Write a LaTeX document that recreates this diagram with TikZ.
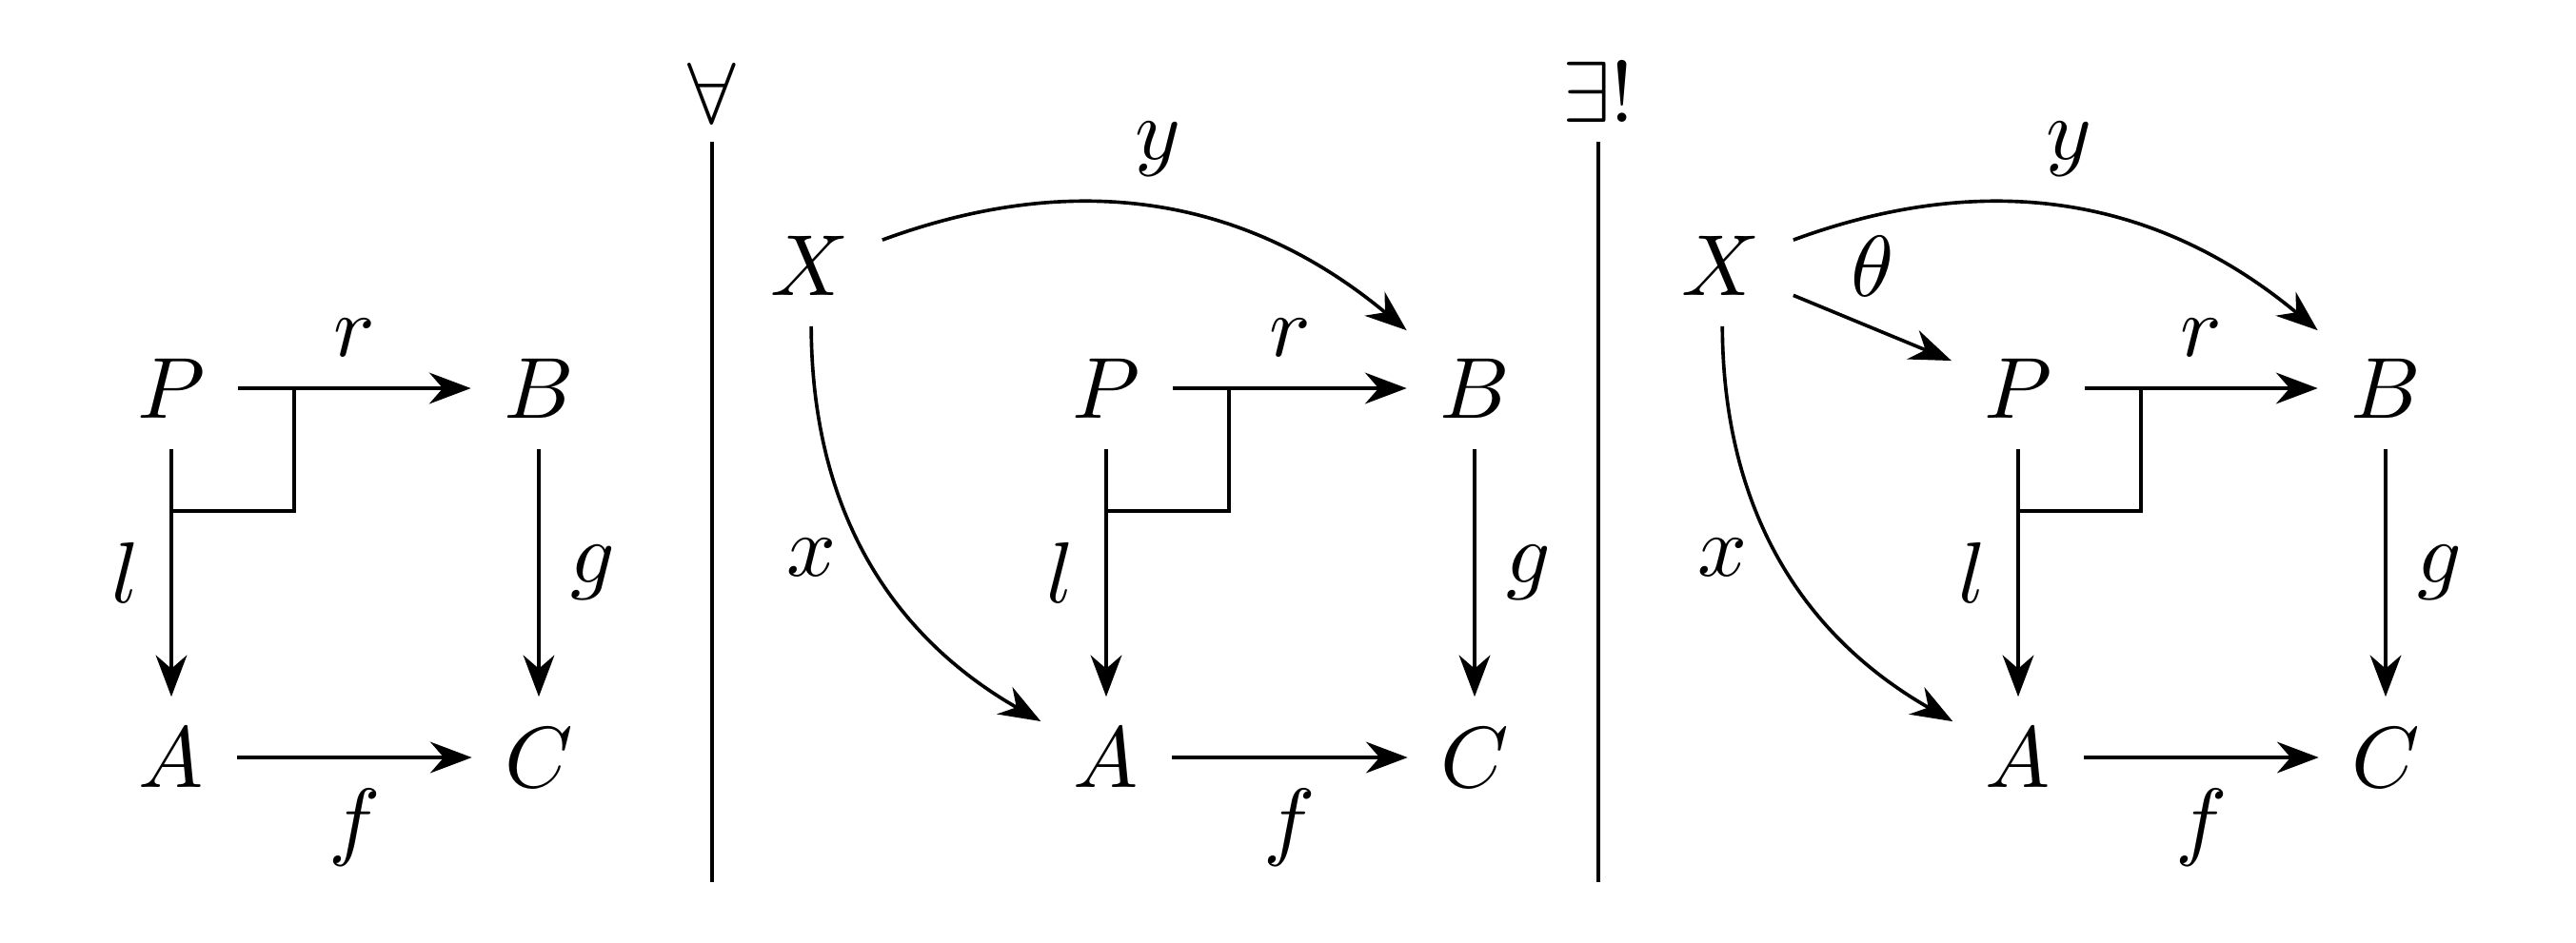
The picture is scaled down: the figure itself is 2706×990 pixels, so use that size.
\documentclass[tikz,border=0pt]{standalone}
\usetikzlibrary{arrows.meta,calc}
\begin{document}
\begin{tikzpicture}[x=0.10989pt,y=-0.10989pt,
  obj/.style={inner xsep=3.6pt, inner ysep=3.4pt},
  arr/.style={-{Stealth}, line width=0.4pt},
  lab/.style={inner sep=3.5pt},
  rule/.style={line width=0.4pt}]
\useasboundingbox (0,0) rectangle (2706,990);
% ---------- left square ----------
\node[obj] (P1) at (180,408) {$P$};
\node[obj] (B1) at (566,408) {$B$};
\node[obj] (A1) at (180,796) {$A$};
\node[obj] (C1) at (566,796) {$C$};
\draw[arr] (P1) -- node[lab,above]{$r$} (B1);
\draw[arr] (P1) -- node[lab,left]{$l$} (A1);
\draw[arr] (B1) -- node[lab,right]{$g$} (C1);
\draw[arr] (A1) -- node[lab,below]{$f$} (C1);
\coordinate (k1) at ($(P1)+(129,129)$);
\draw[rule] (k1 |- P1) -- (k1) -- (k1 -| P1);
% ---------- first divider ----------
\node (fa) at (748,98) {$\forall$};
\coordinate (d1t) at (748,149);
\coordinate (d1b) at (748,927);
\draw[rule] (d1t) -- (d1b);
% ---------- middle diagram ----------
\node[obj] (X2) at (851,279) {$X$};
\node[obj] (P2) at (1162,408) {$P$};
\node[obj] (B2) at (1549,408) {$B$};
\node[obj] (A2) at (1162,796) {$A$};
\node[obj] (C2) at (1549,796) {$C$};
\draw[arr] (P2) -- node[lab,above]{$r$} (B2);
\draw[arr] (P2) -- node[lab,left]{$l$} (A2);
\draw[arr] (B2) -- node[lab,right]{$g$} (C2);
\draw[arr] (A2) -- node[lab,below]{$f$} (C2);
\draw[arr] (X2) to[bend left=30] node[lab,above]{$y$} (B2);
\draw[arr] (X2) to[bend right=30] node[lab,left]{$x$} (A2);
\coordinate (k2) at ($(P2)+(129,129)$);
\draw[rule] (k2 |- P2) -- (k2) -- (k2 -| P2);
% ---------- second divider ----------
\node (ex) at (1679,97) {$\exists!$};
\coordinate (d2t) at (1679,149);
\coordinate (d2b) at (1679,927);
\draw[rule] (d2t) -- (d2b);
% ---------- right diagram ----------
\node[obj] (X3) at (1808,279) {$X$};
\node[obj] (P3) at (2120,408) {$P$};
\node[obj] (B3) at (2506,408) {$B$};
\node[obj] (A3) at (2120,796) {$A$};
\node[obj] (C3) at (2506,796) {$C$};
\draw[arr] (P3) -- node[lab,above]{$r$} (B3);
\draw[arr] (P3) -- node[lab,left]{$l$} (A3);
\draw[arr] (B3) -- node[lab,right]{$g$} (C3);
\draw[arr] (A3) -- node[lab,below]{$f$} (C3);
\draw[arr] (X3) to[bend left=30] node[lab,above]{$y$} (B3);
\draw[arr] (X3) to[bend right=30] node[lab,left]{$x$} (A3);
\draw[arr] (X3) -- node[lab,above]{$\theta$} (P3);
\coordinate (k3) at ($(P3)+(129,129)$);
\draw[rule] (k3 |- P3) -- (k3) -- (k3 -| P3);
\end{tikzpicture}
\end{document}
